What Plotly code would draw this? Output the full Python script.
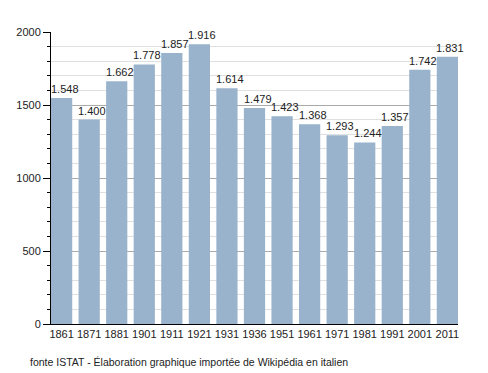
import plotly.graph_objects as go

years = ["1861", "1871", "1881", "1901", "1911", "1921", "1931", "1936", "1951", "1961", "1971", "1981", "1991", "2001", "2011"]
population = [1548, 1400, 1662, 1778, 1857, 1916, 1614, 1479, 1423, 1368, 1293, 1244, 1357, 1742, 1831]
labels = [f"{v // 1000}.{v % 1000:03d}" for v in population]
y_ticks = [0, 500, 1000, 1500, 2000]

BAR_W = 0.77

fig = go.Figure()
fig.add_trace(go.Bar(
    x=years, y=population, cliponaxis=False,
    marker=dict(color="#99b3cc", line=dict(width=0)), width=BAR_W,
))
# category index positions for value labels (category axes map index -> category)
value_notes = [dict(x=i, y=v, text=t, xref="x", yref="y", showarrow=False,
                    xanchor="center", yanchor="bottom", xshift=3, yshift=1,
                    font=dict(size=11, color="#222"))
               for i, (v, t) in enumerate(zip(population, labels))]
fig.update_layout(
    width=480, height=365,
    margin=dict(l=43, r=30, t=24, b=49, autoexpand=False),
    paper_bgcolor="white", plot_bgcolor="white",
    font=dict(family="Liberation Sans, Arial, sans-serif", size=11, color="#222"),
    showlegend=False,
    xaxis=dict(type="category", range=[-BAR_W / 2, len(years) - 1 + BAR_W / 2],
               showline=True, linecolor="black", linewidth=1,
               ticks="", tickfont=dict(size=11), showgrid=False, automargin=False),
    yaxis=dict(range=[0, 2000], tickvals=y_ticks, showline=True, linecolor="black",
               linewidth=1, ticks="outside", ticklen=7, tickcolor="black",
               gridcolor="#aaaaaa", gridwidth=1, zeroline=False, automargin=False,
               minor=dict(dtick=100, ticks="outside", ticklen=3, tickcolor="black",
                          showgrid=True, gridcolor="#e0e0e0", gridwidth=1),
               tickfont=dict(size=11)),
    annotations=value_notes + [dict(
        text="fonte ISTAT - Élaboration graphique importée de Wikipédia en italien",
        xref="paper", yref="paper", x=-0.057, y=-0.13, xanchor="left",
        yanchor="middle", showarrow=False, font=dict(size=10.5, color="#222"))],
)
fig.write_html("out.html")
